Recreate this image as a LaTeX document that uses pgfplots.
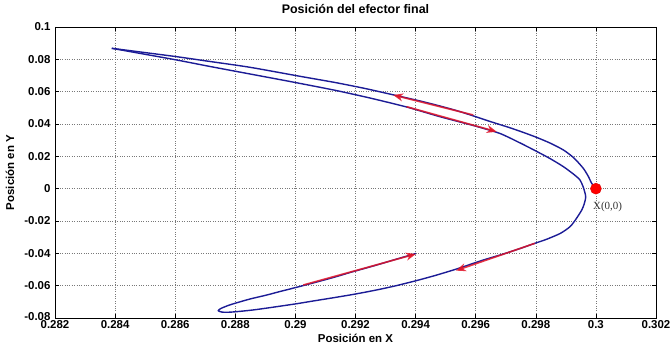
\documentclass[border=0pt]{standalone}
\usepackage{pgfplots}
\pgfplotsset{compat=1.18}
\usepackage{fontspec}
\setmainfont{Liberation Sans}
\newfontfamily\serifX{Liberation Serif}
\usetikzlibrary{arrows.meta}
\definecolor{curveblue}{RGB}{28,28,150}
\definecolor{arrowred}{RGB}{225,20,40}
\definecolor{gridgray}{RGB}{120,120,120}
\begin{document}
\begin{tikzpicture}
\useasboundingbox (-55bp,-29bp) rectangle (615bp,318bp);
\begin{axis}[
  scale only axis, width=601bp, height=291bp,
  xmin=0.282, xmax=0.302, ymin=-0.08, ymax=0.1,
  xtick={0.282,0.284,0.286,0.288,0.290,0.292,0.294,0.296,0.298,0.300,0.302},
  xticklabels={0.282,0.284,0.286,0.288,0.29,0.292,0.294,0.296,0.298,0.3,0.302},
  ytick={-0.08,-0.06,-0.04,-0.02,0,0.02,0.04,0.06,0.08,0.1},
  yticklabels={\raisebox{4bp}{-0.08},-0.06,-0.04,-0.02,0,0.02,0.04,0.06,0.08,0.1},
  tick label style={font=\fontsize{11.5}{13}\selectfont\bfseries},
  xticklabel style={yshift=1bp},
  yticklabel style={xshift=-1bp},
  tick align=inside, major tick length=4bp,
  tick style={black, line width=0.5bp},
  xtick pos=both, ytick pos=both,
  grid=major,
  grid style={dotted, gridgray, line width=0.6bp},
  axis line style={black, line width=0.6bp},
  title={Posición del efector final},
  title style={font=\fontsize{12.5}{14}\selectfont\bfseries, at={(axis description cs:0.5,1)}, anchor=base, yshift=8bp},
  xlabel={Posición en X},
  xlabel style={font=\fontsize{11.5}{13}\selectfont\bfseries, at={(axis description cs:0.5,0)}, anchor=center, yshift=-20bp},
  ylabel={Posición en Y},
  ylabel style={font=\fontsize{11.5}{13}\selectfont\bfseries, at={(axis description cs:-0.0749,0.5)}, anchor=center, rotate=0},
  clip=false,
]
% outer branch: from the start point X(0,0) up to the upper-left tip
\addplot[curveblue, line width=1.4bp, smooth, tension=0.4, line join=round, mark=none] coordinates {
(0.30000,0.00000)
(0.29986,0.00332)
(0.29974,0.00784)
(0.29958,0.01260)
(0.29927,0.01897)
(0.29892,0.02392)
(0.29847,0.02825)
(0.29797,0.03214)
(0.29748,0.03549)
(0.29703,0.03833)
(0.29648,0.04155)
(0.29598,0.04464)
(0.29541,0.04804)
(0.29481,0.05113)
(0.29415,0.05423)
(0.29325,0.05806)
(0.29232,0.06196)
(0.29132,0.06567)
(0.29015,0.06951)
(0.28849,0.07507)
(0.28716,0.07866)
(0.28605,0.08163)
(0.28500,0.08417)
(0.28433,0.08577)
(0.28389,0.08682)
};
% return branch: from the upper-left tip through the right turn, the lower tip and back
\addplot[curveblue, line width=1.4bp, smooth, tension=0.4, line join=round, mark=none] coordinates {
(0.28389,0.08682)
(0.28433,0.08534)
(0.28500,0.08311)
(0.28605,0.07959)
(0.28716,0.07557)
(0.28849,0.07093)
(0.28982,0.06629)
(0.29132,0.06085)
(0.29248,0.05608)
(0.29370,0.05052)
(0.29481,0.04452)
(0.29598,0.03876)
(0.29681,0.03412)
(0.29748,0.02825)
(0.29797,0.02361)
(0.29847,0.01866)
(0.29892,0.01359)
(0.29927,0.00876)
(0.29947,0.00536)
(0.29959,0.00041)
(0.29966,-0.00497)
(0.29961,-0.00948)
(0.29953,-0.01319)
(0.29934,-0.01876)
(0.29914,-0.02352)
(0.29881,-0.02773)
(0.29834,-0.03144)
(0.29797,-0.03379)
(0.29748,-0.03701)
(0.29692,-0.04041)
(0.29631,-0.04381)
(0.29581,-0.04690)
(0.29531,-0.05000)
(0.29465,-0.05371)
(0.29398,-0.05711)
(0.29332,-0.06015)
(0.29282,-0.06220)
(0.29232,-0.06405)
(0.29182,-0.06575)
(0.29132,-0.06730)
(0.29065,-0.06931)
(0.29004,-0.07117)
(0.28932,-0.07315)
(0.28866,-0.07487)
(0.28816,-0.07588)
(0.28782,-0.07640)
(0.28756,-0.07636)
(0.28743,-0.07548)
(0.28752,-0.07412)
(0.28776,-0.07227)
(0.28799,-0.07091)
(0.28849,-0.06825)
(0.28905,-0.06577)
(0.28949,-0.06360)
(0.29004,-0.06101)
(0.29065,-0.05804)
(0.29132,-0.05464)
(0.29182,-0.05185)
(0.29232,-0.04926)
(0.29282,-0.04660)
(0.29332,-0.04381)
(0.29401,-0.04010)
};
\addplot[arrowred, opacity=0.85, line width=1.6bp, -{Stealth[length=10bp,width=8bp,inset=3bp]}] coordinates {(0.29592,0.04557) (0.29325,0.05794)};
\addplot[arrowred, opacity=0.85, line width=1.6bp, -{Stealth[length=10bp,width=8bp,inset=3bp]}] coordinates {(0.29370,0.05070) (0.29670,0.03524)};
\addplot[arrowred, opacity=0.85, line width=1.6bp, -{Stealth[length=10bp,width=8bp,inset=3bp]}] coordinates {(0.29797,-0.03379) (0.29534,-0.05070)};
\addplot[arrowred, opacity=0.85, line width=1.6bp, -{Stealth[length=10bp,width=8bp,inset=3bp]}] coordinates {(0.29026,-0.05959) (0.29401,-0.04040)};
\addplot[only marks, mark=*, mark size=5.5bp, mark options={fill=red, draw=red!85!black}] coordinates {(0.3,0)};
\node[anchor=west, inner sep=0pt, font=\serifX\fontsize{11}{12}\selectfont, text=black!80] at (axis cs:0.2999,-0.0110) {X(0,0)};
\end{axis}
\end{tikzpicture}
\end{document}
